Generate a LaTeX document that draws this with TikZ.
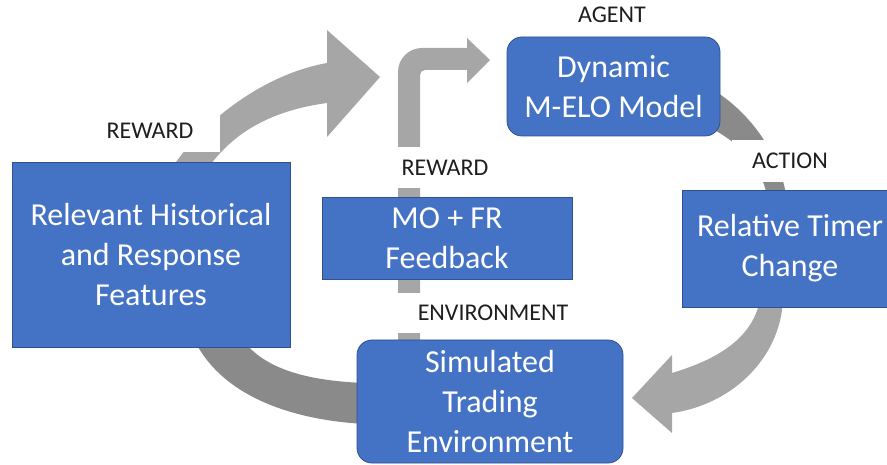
\documentclass[tikz,border=0pt]{standalone}
\usepackage{fontspec}
\setmainfont{Carlito}
\definecolor{boxblue}{HTML}{4472C4}
\definecolor{boxborder}{HTML}{2F528F}
\definecolor{arrowlight}{HTML}{A6A6A6}
\definecolor{arrowdark}{HTML}{8A8A8A}
\definecolor{labeltext}{HTML}{1E1E1E}
\tikzset{
  bluebox/.style={fill=boxblue, draw=boxborder, line width=0.8pt, text=white,
    align=center, inner sep=0pt, font=\fontsize{32}{40}\selectfont},
  roundbox/.style={bluebox, rounded corners=15pt},
  lbl/.style={fill=white, text=labeltext, inner sep=0pt, font=\fontsize{24}{28}\selectfont},
}
\begin{document}
\begin{tikzpicture}[x=1pt,y=-1pt]
\useasboundingbox (0,0) rectangle (887,465);

% block arrows
% big curved reward arrow (left box -> agent)
\fill[arrowlight] (172,168) .. controls (200,125) and (260,75) .. (327,63)
  -- (327,30) -- (380,77) -- (327,137) -- (327,103)
  .. controls (275,110) and (235,130) .. (208,168) -- cycle;
% bent reward arrow (environment -> agent)
\fill[arrowlight] (398,345) -- (398,72) .. controls (398,58.7) and (408.7,48) .. (422,48)
  -- (467,48) -- (467,38) -- (490,60) -- (467,83) -- (467,70) -- (425,70)
  .. controls (422.2,70) and (420,72.2) .. (420,75) -- (420,345) -- cycle;
% action arc (agent -> timer change)
\fill[arrowdark] (710,88) .. controls (745,108) and (780,150) .. (787,200)
  -- (768,200) .. controls (762,168) and (745,145) .. (705,125) -- cycle;
% timer change -> environment
\fill[arrowlight] (783,300) .. controls (780,360) and (730,405) .. (672,413)
  -- (672,433) -- (632,398) -- (672,355) -- (672,373)
  .. controls (715,360) and (752,340) .. (760,300) -- cycle;
% environment -> features
\fill[arrowdark] (192,335) .. controls (218,395) and (290,420) .. (365,424)
  -- (365,383) .. controls (310,381) and (265,370) .. (243,340) -- cycle;

% labels
\node[lbl, minimum width=140pt, minimum height=42pt] (rewardL) at (150,131) {REWARD};
\node[lbl, minimum width=100pt, minimum height=41pt] (rewardM) at (445,167.5) {REWARD};
\node[lbl, minimum width=116pt, minimum height=42pt] (action) at (790,161) {ACTION};
\node[lbl, minimum width=200pt, minimum height=40pt] (envlbl) at (493,313) {ENVIRONMENT};
\node[lbl, fill=none] (agent) at (612,15) {AGENT};

% boxes
\node[bluebox, minimum width=278pt, minimum height=185pt] (hist) at (151,254.5)
  {Relevant Historical\\and Response\\Features};
\node[bluebox, minimum width=250pt, minimum height=82pt] (fb) at (447,238)
  {MO + FR\\Feedback};
\node[roundbox, minimum width=213pt, minimum height=99pt] (melo) at (613.5,86.5)
  {Dynamic\\M-ELO Model};
\node[bluebox, minimum width=216pt, minimum height=117pt] (timer) at (790,248.5)
  {Relative Timer\\Change};
\node[roundbox, minimum width=266pt, minimum height=123pt] (sim) at (490,401.5)
  {Simulated\\Trading\\Environment};
\end{tikzpicture}
\end{document}
